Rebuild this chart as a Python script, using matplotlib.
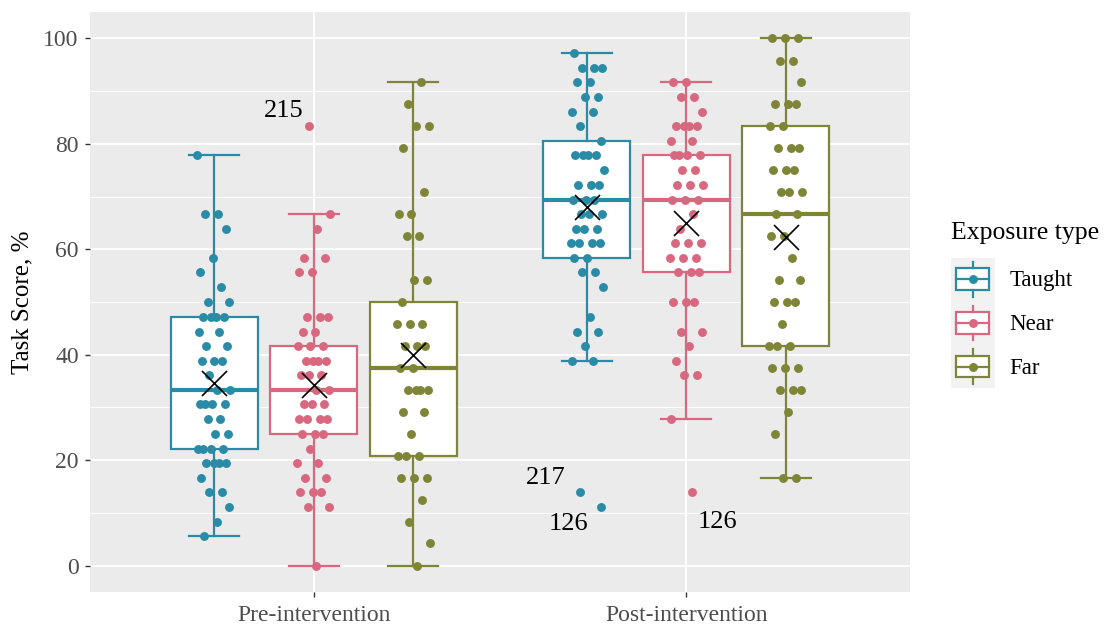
import matplotlib
matplotlib.use("Agg")
import matplotlib.pyplot as plt
import numpy as np
from matplotlib.legend_handler import HandlerBase
from matplotlib.patches import Rectangle
from matplotlib.lines import Line2D
from matplotlib.ticker import MultipleLocator

plt.rcParams['font.family'] = ['Liberation Serif', 'DejaVu Serif']

# ---------------- data ----------------
phases = ["Pre-intervention", "Post-intervention"]
exposures = ["Taught", "Near", "Far"]
colors = ["#2A8BA6", "#D8687F", "#7E8536"]

pre_taught = [77.8, 66.7, 66.7, 63.9, 58.3, 55.6, 52.8, 50.0, 50.0,
              47.2, 47.2, 47.2, 47.2, 44.4, 44.4, 41.7, 41.7, 38.9, 38.9, 38.9,
              36.1, 33.3, 33.3, 30.6, 30.6, 30.6, 30.6, 27.8, 27.8, 25.0, 25.0,
              22.2, 22.2, 22.2, 22.2, 19.4, 19.4, 19.4, 19.4, 16.7, 13.9, 13.9,
              11.1, 8.3, 5.6]
pre_near = [83.3, 66.7, 63.9, 58.3, 58.3, 55.6, 55.6, 47.2, 47.2, 47.2,
            44.4, 44.4, 41.7, 41.7, 41.7, 38.9, 38.9, 38.9, 38.9, 36.1, 36.1, 36.1,
            33.3, 33.3, 30.6, 30.6, 30.6, 27.8, 27.8, 27.8, 27.8, 25.0, 25.0, 25.0,
            22.2, 19.4, 19.4, 16.7, 16.7, 13.9, 13.9, 13.9, 11.1, 11.1, 0.0]
pre_far = [91.7, 87.5, 83.3, 83.3, 79.2, 70.8, 66.7, 66.7, 62.5, 62.5,
           54.2, 54.2, 50.0, 45.8, 45.8, 45.8, 41.7, 41.7, 41.7, 37.5, 37.5,
           33.3, 33.3, 33.3, 33.3, 29.2, 29.2, 25.0, 20.8, 20.8, 20.8,
           16.7, 16.7, 16.7, 12.5, 8.3, 4.2, 0.0]
post_taught = [97.2, 94.4, 94.4, 94.4, 91.7, 91.7, 88.9, 88.9, 86.1, 86.1,
               83.3, 80.6, 77.8, 77.8, 77.8, 77.8, 75.0, 72.2, 72.2, 72.2,
               69.4, 69.4, 69.4, 66.7, 66.7, 66.7, 63.9, 63.9, 63.9,
               61.1, 61.1, 61.1, 61.1, 58.3, 58.3, 55.6, 55.6, 52.8, 47.2,
               44.4, 44.4, 41.7, 38.9, 38.9, 13.9, 11.1]
post_near = [91.7, 91.7, 88.9, 88.9, 86.1, 83.3, 83.3, 83.3, 83.3, 80.6, 80.6,
             77.8, 77.8, 77.8, 77.8, 75.0, 75.0, 72.2, 72.2, 72.2, 69.4, 69.4, 69.4,
             66.7, 63.9, 61.1, 61.1, 61.1, 58.3, 58.3, 58.3, 55.6, 55.6, 55.6,
             50.0, 50.0, 50.0, 44.4, 44.4, 41.7, 38.9, 36.1, 36.1, 27.8, 13.9]
post_far = [100.0, 100.0, 100.0, 95.8, 95.8, 91.7, 87.5, 87.5, 87.5, 83.3, 83.3,
            79.2, 79.2, 79.2, 75.0, 75.0, 75.0, 70.8, 70.8, 70.8, 66.7, 66.7,
            62.5, 62.5, 58.3, 54.2, 54.2, 50.0, 50.0, 50.0, 45.8, 41.7, 41.7, 41.7,
            37.5, 37.5, 37.5, 33.3, 33.3, 33.3, 29.2, 25.0, 16.7, 16.7]

scores = [[pre_taught, pre_near, pre_far],
          [post_taught, post_near, post_far]]

# box statistics (rows: phase, cols: exposure)
q1 = [[22.2, 25.0, 20.8], [58.3, 55.6, 41.7]]
medians = [[33.3, 33.3, 37.5], [69.4, 69.4, 66.7]]
q3 = [[47.2, 41.7, 50.0], [80.6, 77.8, 83.3]]
whisker_lo = [[5.6, 0.0, 0.0], [38.9, 27.8, 16.7]]
whisker_hi = [[77.8, 66.7, 91.7], [97.2, 91.7, 100.0]]
means = [[34.7, 34.3, 40.0], [68.0, 65.0, 62.4]]

# labelled outliers: (phase index, exposure index, value, label)
outlier_labels = [(0, 1, 83.3, "215"), (1, 0, 13.9, "217"),
                  (1, 0, 11.1, "126"), (1, 1, 13.9, "126")]
# label placement (style): dx, dy in data units, horizontal alignment
label_style = [(-0.015, 2.9, "right"), (-0.04, 2.8, "right"),
               (-0.035, -3.2, "right"), (0.016, -5.6, "left")]

# ---------------- figure ----------------
fig = plt.figure(figsize=(11.19, 6.25), dpi=100)
ax = fig.add_axes([90 / 1119, 33 / 625, 820 / 1119, 580 / 625])
ax.set_facecolor("#EBEBEB")
for s in ax.spines.values():
    s.set_visible(False)

ax.set_xlim(0.4, 2.6)
ax.set_ylim(-5, 105)
ax.yaxis.set_major_locator(MultipleLocator(20))
ax.yaxis.set_minor_locator(MultipleLocator(10))
ax.grid(which="major", color="white", lw=1.4)
ax.grid(which="minor", axis="y", color="white", lw=0.7)
ax.set_axisbelow(True)

dodge = 0.267
box_w = 0.233
cap_w = 0.134
jit = 0.045
lw = 1.6

point_x = {}
for p in range(len(phases)):
    for e in range(len(exposures)):
        c = colors[e]
        pos = p + 1 + (e - 1) * dodge
        stats = [dict(med=medians[p][e], q1=q1[p][e], q3=q3[p][e],
                      whislo=whisker_lo[p][e], whishi=whisker_hi[p][e], fliers=[])]
        ax.bxp(stats, positions=[pos], widths=box_w, capwidths=cap_w,
               patch_artist=True, showfliers=False, manage_ticks=False,
               boxprops=dict(facecolor="white", edgecolor=c, lw=lw),
               medianprops=dict(color=c, lw=3.0, solid_capstyle="butt"),
               whiskerprops=dict(color=c, lw=lw),
               capprops=dict(color=c, lw=lw), zorder=2)
        vals = np.array(scores[p][e])
        idx = np.arange(len(vals))
        offs = ((idx * 0.6180339887 + (p * 3 + e) * 0.37) % 1 - 0.5) * 2 * jit
        xs = pos + offs
        point_x[(p, e)] = (vals, xs)
        ax.plot(xs, vals, "o", color=c, ms=6.4, mew=0, ls="none", zorder=3)
        ax.plot([pos], [means[p][e]], marker="x", color="black", ms=18,
                mew=1.2, ls="none", zorder=4)

for (p, e, v, lab), (dx, dy, ha) in zip(outlier_labels, label_style):
    vals, xs = point_x[(p, e)]
    i = int(np.argmin(np.abs(vals - v)))
    ax.text(xs[i] + dx, vals[i] + dy, lab, ha=ha, va="center",
            fontsize=19, color="black", zorder=5)

ax.set_xticks([1, 2])
ax.set_xticklabels(phases)
ax.tick_params(axis="both", which="major", colors="#333333", length=3.6,
               width=1.0, labelsize=17, labelcolor="#4D4D4D", pad=5.5)
ax.tick_params(axis="y", which="major", pad=4.5)
ax.tick_params(axis="y", which="minor", length=0)
ax.set_ylabel("Task Score, %", fontsize=18, color="black", labelpad=7)


class BoxKeyHandler(HandlerBase):
    def create_artists(self, legend, orig_handle, xdescent, ydescent,
                       width, height, fontsize, trans):
        c = orig_handle.get_color()
        x0, y0 = -xdescent, -ydescent
        cx, cy = x0 + width / 2, y0 + height / 2
        arts = [
            Rectangle((x0, y0), width, height, facecolor="#F2F2F2",
                      edgecolor="none", transform=trans),
            Rectangle((x0 + 0.125 * width, y0 + 0.25 * height), 0.75 * width,
                      0.5 * height, facecolor="white", edgecolor=c, lw=lw,
                      transform=trans),
            Line2D([cx, cx], [y0 + 0.1 * height, y0 + 0.25 * height],
                   color=c, lw=lw, transform=trans),
            Line2D([cx, cx], [y0 + 0.75 * height, y0 + 0.9 * height],
                   color=c, lw=lw, transform=trans),
            Line2D([x0 + 0.125 * width, x0 + 0.875 * width], [cy, cy],
                   color=c, lw=lw, transform=trans),
            Line2D([cx], [cy], marker="o", ms=6.4, mew=0, color=c, ls="none",
                   transform=trans),
        ]
        return arts


handles = [Line2D([], [], color=c) for c in colors]
leg = fig.legend(handles, exposures, loc="center left",
                 bbox_to_anchor=(951 / 1119, 0.512), frameon=False,
                 handler_map={Line2D: BoxKeyHandler()},
                 fontsize=16.5, title="Exposure type", title_fontsize=18.5,
                 handlelength=1.9, handleheight=2.55, labelspacing=0.0,
                 handletextpad=0.65, borderpad=0, borderaxespad=0,
                 alignment="left")
leg._legend_box.sep = 10

fig.savefig("out.png", dpi=100)
